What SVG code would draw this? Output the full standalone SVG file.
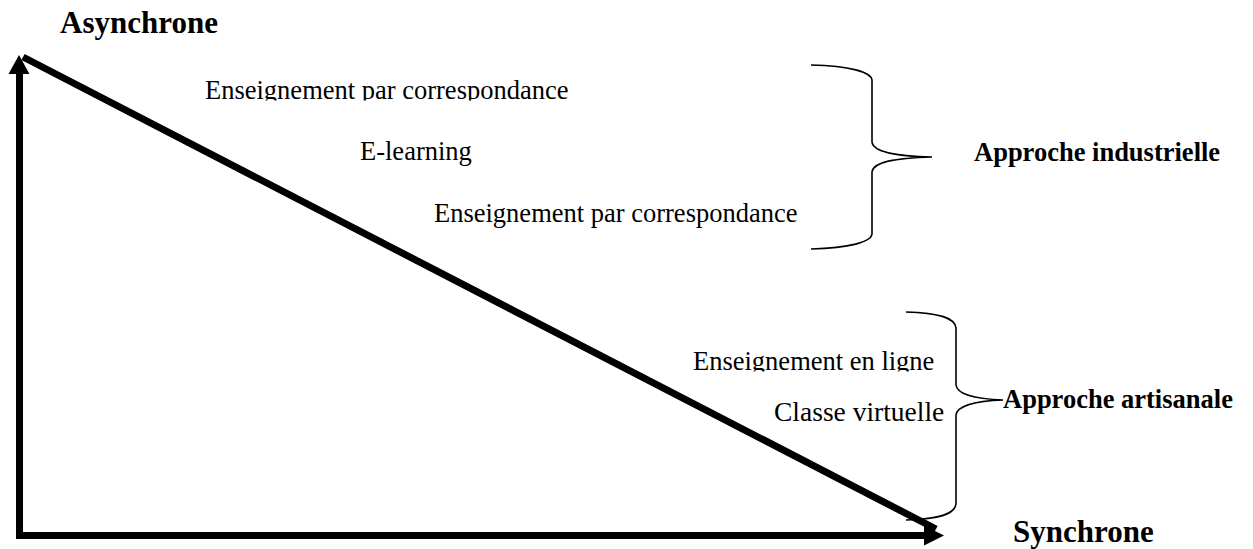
<svg xmlns="http://www.w3.org/2000/svg" width="1253" height="549" viewBox="0 0 1253 549">
  <style>
    .item { font-family: "Liberation Serif", "Times New Roman", serif; font-size: 26.5px; fill: #000; }
    .axis-label { font-family: "Liberation Serif", "Times New Roman", serif; font-size: 31px; font-weight: bold; fill: #000; }
    .group-label { font-family: "Liberation Serif", "Times New Roman", serif; font-size: 26.5px; font-weight: bold; fill: #000; }
    .axis { stroke: #000; stroke-width: 7; fill: none; }
    .brace { stroke: #000; stroke-width: 1.6; fill: none; }
  </style>
  <defs>
    <clipPath id="clip-top-line"><rect x="0" y="0" width="1253" height="100.5"/></clipPath>
    <clipPath id="clip-online"><rect x="0" y="300" width="1253" height="71.5"/></clipPath>
  </defs>
  <rect width="1253" height="549" fill="#fff"/>

  <!-- axes and the descending diagonal -->
  <g id="connectors">
    <line class="axis" x1="19.5" y1="539" x2="19.5" y2="72"/>
    <polygon points="19,55 8.5,74 29.5,74" fill="#000"/>
    <line class="axis" x1="16" y1="535.5" x2="928" y2="535.5"/>
    <polygon points="944,535.5 924,525.5 924,545.5" fill="#000"/>
    <line class="axis" x1="23" y1="57" x2="936" y2="529" stroke-width="6.5"/>
  </g>

  <g id="axis-asynchrone">
    <text class="axis-label" x="60" y="33">Asynchrone</text>
  </g>
  <g id="axis-synchrone">
    <text class="axis-label" x="1013" y="542">Synchrone</text>
  </g>

  <g id="item-correspondance-1">
    <text class="item" x="205" y="99" clip-path="url(#clip-top-line)">Enseignement par correspondance</text>
  </g>
  <g id="item-elearning">
    <text class="item" x="360" y="160">E-learning</text>
  </g>
  <g id="item-correspondance-2">
    <text class="item" x="434" y="222">Enseignement par correspondance</text>
  </g>
  <g id="item-en-ligne">
    <text class="item" x="693" y="370" clip-path="url(#clip-online)">Enseignement en ligne</text>
  </g>
  <g id="item-classe-virtuelle">
    <text class="item" x="774" y="421" style="font-size:27.5px">Classe virtuelle</text>
  </g>

  <!-- industrial approach -->
  <g id="approche-industrielle">
    <path class="brace" d="M 811,65 C 850,66 871,72 872,80 L 872,142 C 873,152 895,156 932,157 C 895,158 873,162 872,172 L 872,234 C 871,242 850,248 811,249"/>
    <text class="group-label" x="974" y="161">Approche industrielle</text>
  </g>

  <!-- craft approach -->
  <g id="approche-artisanale">
    <path class="brace" d="M 906,312 C 940,313 955,318 956,328 L 956,385 C 957,394 975,399 1003,400 C 975,401 957,406 956,415 L 956,504 C 955,514 940,519 906,520"/>
    <text class="group-label" x="1003" y="408">Approche artisanale</text>
  </g>
</svg>
